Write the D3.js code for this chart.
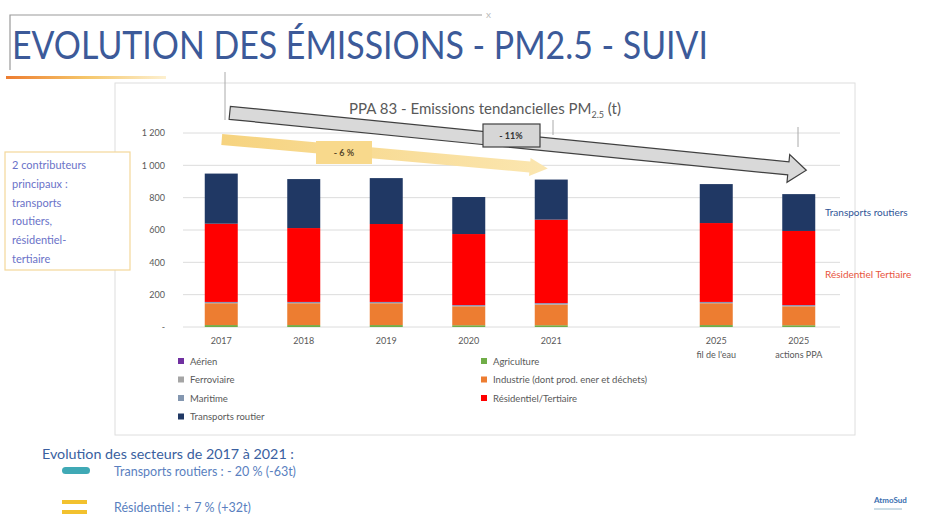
<!DOCTYPE html>
<html>
<head>
	<meta charset="utf-8">
	<title> PM2.5 suivi </title>
	<script src="https://d3js.org/d3.v7.min.js"></script>
	<style>
		body { margin: 0; background: #fff; }
		text { font-family: Lato, "Open Sans", sans-serif; }
	</style>
</head>
<body>
	<svg width="932" height="522"></svg>
	<script type="text/javascript">
		// categories (the empty slot is the gap before 2025)
		let categories = ["2017", "2018", "2019", "2020", "2021", "gap", "2025a", "2025b"];
		let catLines = [["2017"], ["2018"], ["2019"], ["2020"], ["2021"], [], ["2025", "fil de l'eau"], ["2025", "actions PPA"]];
		let barCats = ["2017", "2018", "2019", "2020", "2021", "2025a", "2025b"];
		// series values, tonnes
		let agriculture = [12, 12, 12, 11, 11, 12, 11];
		let industrie = [135, 135, 135, 117, 128, 135, 117];
		let ferroviaire = [1, 1, 1, 1, 1, 1, 1];
		let maritime = [6, 6, 6, 6, 7, 6, 6];
		let aerien = [1, 1, 1, 1, 1, 1, 1];
		let residentiel = [484, 457, 482, 439, 516, 488, 458];
		let transports = [310, 303, 284, 229, 248, 241, 228];
		let yTicks = [0, 200, 400, 600, 800, 1000, 1200];
		// trend arrows [start cat, start value, end cat, end value]
		let greyArrow = ["2017", 1325, "2025b", 970];
		let yellowArrow = ["2017", 1160, "2021", 980];

		let svg = d3.select("svg");

		let seriesKeys = ["Agriculture", "Industrie", "Ferroviaire", "Maritime", "Aérien", "Résidentiel", "Transports"];
		let seriesVals = [agriculture, industrie, ferroviaire, maritime, aerien, residentiel, transports];
		let colorSet = {"Agriculture": "#70ad47", "Industrie": "#ed7d31", "Ferroviaire": "#a5a5a5",
			"Maritime": "#8497b0", "Aérien": "#7030a0", "Résidentiel": "#ff0000", "Transports": "#203864"};

		let rows = barCats.map(function(c, i) {
			let r = {cat: c};
			seriesKeys.forEach(function(k, j) { r[k] = seriesVals[j][i]; });
			return r;
		});

		// title block
		svg.append("path").attr("d", "M10,70 V15 H482").attr("fill", "none").attr("stroke", "#9a9a9a").attr("stroke-width", 1.2);
		svg.append("text").attr("x", 486).attr("y", 18).attr("font-size", 10).attr("fill", "#bbb").text("x");
		svg.append("text").attr("x", 12).attr("y", 59).attr("font-size", 38).attr("fill", "#3c5a99")
			.attr("textLength", 696).attr("lengthAdjust", "spacingAndGlyphs")
			.text("EVOLUTION DES ÉMISSIONS - PM2.5 - SUIVI");
		let defs = svg.append("defs");
		let grad = defs.append("linearGradient").attr("id", "og");
		grad.append("stop").attr("offset", "0").attr("stop-color", "#ed7d31");
		grad.append("stop").attr("offset", "0.5").attr("stop-color", "#f5c66a");
		grad.append("stop").attr("offset", "1").attr("stop-color", "#fdf0d0");
		svg.append("rect").attr("x", 6).attr("y", 76).attr("width", 160).attr("height", 3).attr("fill", "url(#og)");

		// chart frame
		svg.append("rect").attr("x", 115).attr("y", 83).attr("width", 740).attr("height", 352)
			.attr("fill", "#fff").attr("stroke", "#dedede");
		svg.append("line").attr("x1", 225).attr("x2", 225).attr("y1", 72).attr("y2", 120).attr("stroke", "#aaa");

		let x = d3.scaleBand().domain(categories).range([180, 840]).paddingInner(0.6).paddingOuter(0.3);
		let y = d3.scaleLinear().domain([0, 1200]).range([327, 133]);

		// grid
		svg.append("g").selectAll("line").data(yTicks).enter().append("line")
			.attr("x1", 183).attr("x2", 840)
			.attr("y1", function(d) { return y(d); }).attr("y2", function(d) { return y(d); })
			.attr("stroke", "#dcdcdc");

		let yAxis = d3.axisLeft(y).tickValues(yTicks).tickSize(0).tickPadding(0)
			.tickFormat(function(d) { return d === 0 ? "-" : d3.format(",")(d).replace(",", " "); });
		let ga = svg.append("g").attr("transform", "translate(165,0)").call(yAxis);
		ga.select(".domain").remove();
		ga.selectAll("text").attr("font-size", 9).attr("fill", "#595959").attr("font-family", "Lato");

		let xAxis = d3.axisBottom(x).tickSize(0).tickFormat("");
		let gx = svg.append("g").attr("transform", "translate(0,327)").call(xAxis);
		gx.select(".domain").remove();
		gx.selectAll(".tick").each(function(d, i) {
			let lines = catLines[categories.indexOf(d)];
			let t = d3.select(this).append("text").attr("fill", "#595959").attr("font-size", 9)
				.attr("text-anchor", "middle").attr("font-family", "Lato");
			lines.forEach(function(l, k) { t.append("tspan").attr("x", 0).attr("y", 17 + k * 14).text(l); });
		});

		// stacked bars
		let stack = d3.stack().keys(seriesKeys)(rows);
		svg.append("g").selectAll("g").data(stack).enter().append("g")
			.attr("fill", function(d) { return colorSet[d.key]; })
			.selectAll("rect").data(function(d) { return d; }).enter().append("rect")
			.attr("x", function(d) { return x(d.data.cat); })
			.attr("width", x.bandwidth())
			.attr("y", function(d) { return y(d[1]); })
			.attr("height", function(d) { return y(d[0]) - y(d[1]); });

		// chart title
		let ct = svg.append("text").attr("x", 485).attr("y", 114).attr("text-anchor", "middle")
			.attr("font-size", 15).attr("fill", "#595959");
		ct.append("tspan").text("PPA 83 - Emissions tendancielles PM");
		ct.append("tspan").attr("font-size", 9).attr("dy", 4).text("2.5");
		ct.append("tspan").attr("dy", -4).text(" (t)");

		// arrows
		function arrowPath(a, x0off, x1off, half, headHalf, headLen) {
			let x0 = x(a[0]) + x0off, y0 = y(a[1]);
			let x1 = x(a[2]) + x1off, y1 = y(a[3]);
			let ang = Math.atan2(y1 - y0, x1 - x0);
			let ux = Math.cos(ang), uy = Math.sin(ang), nx = -uy, ny = ux;
			let bx = x1 - ux * headLen, by = y1 - uy * headLen;
			let p = [
				[x0 + nx * half, y0 + ny * half], [bx + nx * half, by + ny * half],
				[bx + nx * headHalf, by + ny * headHalf], [x1, y1],
				[bx - nx * headHalf, by - ny * headHalf], [bx - nx * half, by - ny * half],
				[x0 - nx * half, y0 - ny * half]];
			return "M" + p.map(function(q) { return q[0].toFixed(1) + "," + q[1].toFixed(1); }).join("L") + "Z";
		}
		let yg = defs.append("linearGradient").attr("id", "yg");
		yg.append("stop").attr("offset", "0").attr("stop-color", "#f6d37f");
		yg.append("stop").attr("offset", "1").attr("stop-color", "#fbe6b0");
		svg.append("path").attr("d", arrowPath(yellowArrow, 17, 13, 5.5, 9, 18)).attr("fill", "url(#yg)");
		svg.append("path").attr("d", arrowPath(greyArrow, 25, 24, 6.5, 14, 18))
			.attr("fill", "#d9d9d9").attr("stroke", "#404040").attr("stroke-width", 1.2);

		svg.append("line").attr("x1", 553).attr("x2", 553).attr("y1", 120).attr("y2", 135).attr("stroke", "#aaa");
		svg.append("line").attr("x1", 798).attr("x2", 798).attr("y1", 127).attr("y2", 147).attr("stroke", "#aaa");

		// arrow labels
		svg.append("rect").attr("x", 316).attr("y", 141).attr("width", 56).attr("height", 23).attr("fill", "#f8d98c");
		svg.append("text").attr("x", 344).attr("y", 156).attr("text-anchor", "middle").attr("font-size", 9)
			.attr("font-weight", "bold").attr("fill", "#5a4a2a").text("- 6 %");
		svg.append("rect").attr("x", 483).attr("y", 124).attr("width", 57).attr("height", 23)
			.attr("fill", "#d6d6d6").attr("stroke", "#404040").attr("stroke-width", 1.2);
		svg.append("text").attr("x", 511).attr("y", 139).attr("text-anchor", "middle").attr("font-size", 9)
			.attr("font-weight", "bold").attr("fill", "#333").text("- 11%");

		// right labels
		svg.append("text").attr("x", 825).attr("y", 216).attr("font-size", 10).attr("fill", "#2f5597").text("Transports routiers");
		svg.append("text").attr("x", 825).attr("y", 278).attr("font-size", 10).attr("fill", "#e8553e").text("Résidentiel Tertiaire");

		// legend
		let legendItems = [
			["Aérien", "Aérien", 0, 0], ["Ferroviaire", "Ferroviaire", 0, 1], ["Maritime", "Maritime", 0, 2],
			["Transports", "Transports routier", 0, 3], ["Agriculture", "Agriculture", 1, 0],
			["Industrie", "Industrie (dont prod. ener et déchets)", 1, 1], ["Résidentiel", "Résidentiel/Tertiaire", 1, 2]];
		let lg = svg.append("g").selectAll("g").data(legendItems).enter().append("g")
			.attr("transform", function(d) { return "translate(" + (d[2] ? 481 : 178) + "," + (358 + d[3] * 18.5) + ")"; });
		lg.append("rect").attr("width", 6).attr("height", 6).attr("fill", function(d) { return colorSet[d[0]]; });
		lg.append("text").attr("x", 12).attr("y", 6.5).attr("font-size", 9.5).attr("fill", "#595959").text(function(d) { return d[1]; });

		// side note
		svg.append("rect").attr("x", 5).attr("y", 152).attr("width", 125).attr("height", 118)
			.attr("fill", "#fff").attr("stroke", "#f3d79a").attr("stroke-width", 1.2);
		let note = ["2 contributeurs", "principaux :", "transports", "routiers,", "résidentiel-", "tertiaire"];
		svg.append("g").selectAll("text").data(note).enter().append("text")
			.attr("x", 12).attr("y", function(d, i) { return 169 + i * 18.8; })
			.attr("font-size", 11).attr("fill", "#6a72c8").text(function(d) { return d; });

		// bottom summary
		svg.append("text").attr("x", 42).attr("y", 459).attr("font-size", 14.3).attr("fill", "#3a5fa0")
			.text("Evolution des secteurs de 2017 à 2021 :");
		svg.append("rect").attr("x", 62).attr("y", 467).attr("width", 28).attr("height", 7).attr("rx", 3.5).attr("fill", "#3fa9b5");
		svg.append("text").attr("x", 114).attr("y", 476).attr("font-size", 12.5).attr("fill", "#5a7fc0")
			.text("Transports routiers : - 20 % (-63t)");
		svg.append("rect").attr("x", 62).attr("y", 500).attr("width", 25).attr("height", 4).attr("fill", "#f2c12e");
		svg.append("rect").attr("x", 62).attr("y", 510).attr("width", 25).attr("height", 4).attr("fill", "#f2c12e");
		svg.append("text").attr("x", 114).attr("y", 512).attr("font-size", 12.5).attr("fill", "#5a7fc0")
			.text("Résidentiel : + 7 %   (+32t)");

		svg.append("text").attr("x", 874).attr("y", 503).attr("font-size", 8).attr("font-weight", "bold").attr("fill", "#3a6fb0").text("AtmoSud");
		svg.append("line").attr("x1", 874).attr("x2", 902).attr("y1", 509).attr("y2", 509).attr("stroke", "#9bc").attr("stroke-width", 1);
	</script>
</body>
</html>
